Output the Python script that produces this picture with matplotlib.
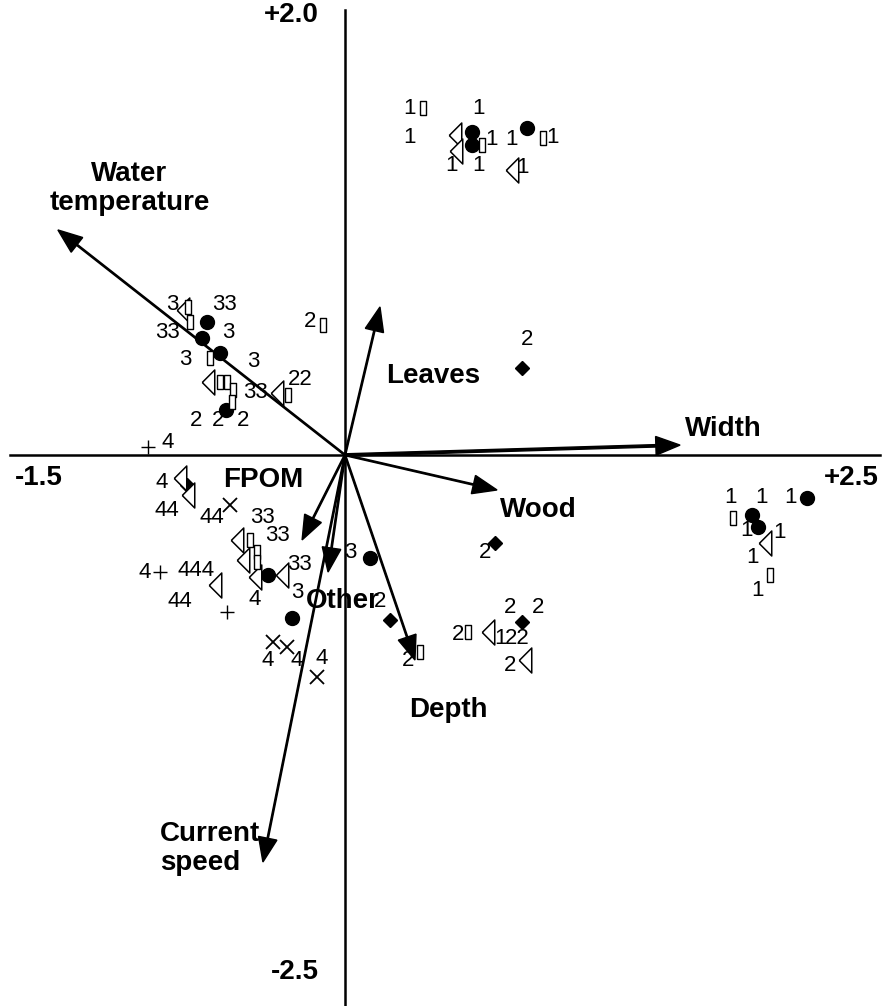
import matplotlib
matplotlib.use('Agg')
import matplotlib.pyplot as plt

# CCA biplot: environmental arrows (axis-1, axis-2 scores)
env_names = ['Water\ntemperature', 'Width', 'Leaves', 'Wood', 'FPOM',
             'Other', 'Depth', 'Current\nspeed']
env_x = [-1.305, 1.523, 0.159, 0.691, -0.195, -0.077, 0.318, -0.373]
env_y = [1.023, 0.045, 0.673, -0.159, -0.386, -0.532, -0.932, -1.850]
# label positions (text anchors)
env_lx = [-0.98, 1.72, 0.40, 0.88, -0.37, -0.01, 0.47, -0.84]
env_ly = [1.21, 0.12, 0.36, -0.25, -0.115, -0.665, -1.16, -1.79]
env_ha = ['center', 'center', 'center', 'center', 'center', 'center',
          'center', 'left']

# sample scores by symbol
circle_x = [0.577, 0.577, 0.827, 2.100, 1.850, 1.877, -0.627, -0.650,
            -0.568, -0.541, -0.350, 0.114, -0.241]
circle_y = [1.468, 1.409, 1.486, -0.195, -0.273, -0.327, 0.605, 0.532,
            0.464, 0.205, -0.545, -0.468, -0.741]

diamond_x = [0.805, -0.718, 0.682, 0.805, 0.205]
diamond_y = [0.395, -0.136, -0.400, -0.759, -0.750]

tri_x = [0.500, 0.505, 0.759, 1.909, -0.736, -0.623, -0.309, -0.750,
         -0.714, -0.491, -0.464, -0.409, -0.286, -0.591, 0.650, 0.818]
tri_y = [1.455, 1.382, 1.295, -0.400, 0.659, 0.332, 0.282, -0.105,
         -0.182, -0.386, -0.477, -0.555, -0.545, -0.591, -0.805, -0.932]

rect_x = [0.355, 0.623, 0.900, 1.764, 1.932, -0.714, -0.705, -0.614,
          -0.568, -0.536, -0.509, -0.514, -0.259, -0.100, -0.432, -0.400,
          -0.400, 0.559, 0.341]
rect_y = [1.577, 1.409, 1.441, -0.286, -0.545, 0.673, 0.605, 0.441,
          0.332, 0.332, 0.295, 0.241, 0.273, 0.591, -0.386, -0.441,
          -0.486, -0.805, -0.895]

cross_x = [-0.523, -0.327, -0.264, -0.127]
cross_y = [-0.227, -0.850, -0.873, -1.009]

plus_x = [-0.895, -0.841, -0.536]
plus_y = [0.036, -0.532, -0.714]

# site/season number labels
num_txt = ['1', '1', '1', '1', '1', '1', '1', '1', '1',
           '1', '1', '1', '1', '1', '1', '1',
           '3', '33', '33', '3', '3', '3', '33', '22', '2', '2', '2', '2',
           '2',
           '4', '4', '44', '44', '33', '33', '444', '4', '33', '44', '4',
           '3', '3', '4', '4', '4',
           '2', '2', '2', '2', '2', '1', '22', '2', '2']
num_x = [0.295, 0.605, 0.295, 0.668, 0.759, 0.945, 0.486, 0.605, 0.805,
         1.750, 1.895, 2.023, 1.827, 1.977, 1.850, 1.873,
         -0.786, -0.550, -0.805, -0.532, -0.727, -0.418, -0.409, -0.205,
         -0.677, -0.577, -0.464, -0.159,
         0.827,
         -0.805, -0.832, -0.809, -0.605, -0.373, -0.309, -0.677, -0.909,
         -0.205, -0.750, -0.409, -0.218, 0.023, -0.350, -0.218, -0.105,
         0.636, 0.159, 0.750, 0.877, 0.514, 0.705, 0.782, 0.750, 0.286]
num_y = [1.577, 1.577, 1.445, 1.432, 1.432, 1.441, 1.318, 1.318, 1.305,
         -0.195, -0.195, -0.195, -0.341, -0.350, -0.464, -0.614,
         0.682, 0.682, 0.555, 0.555, 0.432, 0.423, 0.282, 0.341,
         0.159, 0.159, 0.159, 0.605,
         0.523,
         0.055, -0.127, -0.250, -0.286, -0.286, -0.364, -0.523, -0.532,
         -0.500, -0.668, -0.659, -0.623, -0.445, -0.932, -0.932, -0.923,
         -0.441, -0.668, -0.695, -0.695, -0.818, -0.832, -0.832, -0.955,
         -0.932]

PX = 220.0  # pixels per unit
fig = plt.figure(figsize=(8.88, 10.06), dpi=100)
ax = fig.add_axes([0, 0, 1, 1])
ax.set_xlim(-345 / PX, 543 / PX)
ax.set_ylim(-551 / PX, 455 / PX)
ax.axis('off')

bold = dict(family='Liberation Sans', weight='bold', fontsize=20)
num = dict(family='Liberation Sans', fontsize=16)

# axes lines
ax.plot([-335 / PX, 535 / PX], [0, 0], color='black', lw=1.8, zorder=1)
ax.plot([0, 0], [-551 / PX, 445 / PX], color='black', lw=1.8, zorder=1)
ax.text(-0.12, 2.0, '+2.0', ha='right', va='center', **bold)
ax.text(-0.12, -2.35, '-2.5', ha='right', va='center', **bold)
ax.text(-1.39, -0.105, '-1.5', ha='center', va='center', **bold)
ax.text(2.30, -0.105, '+2.5', ha='center', va='center', **bold)

# environmental arrows
for name, x, y, lx, ly, ha in zip(env_names, env_x, env_y, env_lx, env_ly,
                                  env_ha):
    w = 0.011 if name == 'Width' else 0.006
    ax.arrow(0, 0, x, y, width=w, head_width=0.085, head_length=0.11,
             length_includes_head=True, color='black', zorder=3)
    ax.text(lx, ly, name, ha=ha, va='center', linespacing=1.15, zorder=5,
            **bold)

tri_m = [(-0.5, 0), (0.5, 1), (0.5, -1), (-0.5, 0)]
rect_m = [(-0.5, -1), (0.5, -1), (0.5, 1), (-0.5, 1), (-0.5, -1)]

ax.plot(circle_x, circle_y, 'o', ms=10, color='black', zorder=4)
ax.plot(diamond_x, diamond_y, 'D', ms=7, color='black', zorder=4)
ax.plot(tri_x, tri_y, marker=tri_m, ls='none', ms=18, mfc='white',
        mec='black', mew=1.1, zorder=4)
ax.plot(rect_x, rect_y, marker=rect_m, ls='none', ms=10, mfc='white',
        mec='black', mew=1.0, zorder=4)
ax.plot(cross_x, cross_y, 'x', ms=10, color='black', mew=1.3, zorder=4)
ax.plot(plus_x, plus_y, '+', ms=10, color='black', mew=1.0, zorder=4)

for t, x, y in zip(num_txt, num_x, num_y):
    ax.text(x, y, t, ha='center', va='center', zorder=5, **num)

fig.savefig('out.png', dpi=100)
